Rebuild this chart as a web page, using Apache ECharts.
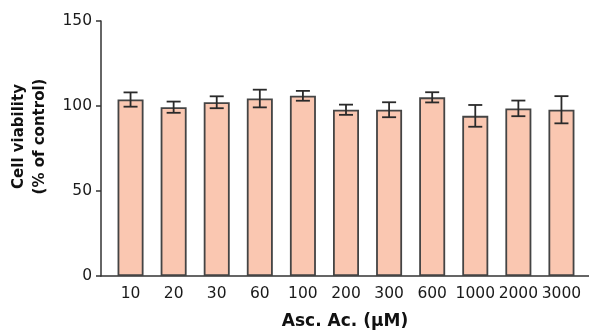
<!DOCTYPE html>
<html>
<head>
<meta charset="utf-8">
<script src="https://cdn.jsdelivr.net/npm/echarts@6/dist/echarts.min.js"></script>
<style>
html,body{margin:0;padding:0;background:#fff;}
#c{width:589px;height:331px;}
</style>
</head>
<body>
<div id="c"></div>
<script>
const categories = ['10','20','30','60','100','200','300','600','1000','2000','3000'];
const viability = [103.8, 99.3, 102.2, 104.4, 106.0, 97.8, 97.8, 105.1, 94.2, 98.6, 97.8];
const errorSD = [4.2, 3.3, 3.5, 5.2, 2.9, 3.0, 4.4, 3.0, 6.4, 4.6, 8.0];
const yTicks = [0, 50, 100, 150];

const errData = viability.map((v, i) => [i, v - errorSD[i], v + errorSD[i]]);
const font = 'DejaVu Sans';

const chart = echarts.init(document.getElementById('c'));
chart.setOption({
  animation: false,
  backgroundColor: '#fff',
  grid: [
    {left: 101, right: 0, top: 21, bottom: 55, containLabel: false, outerBoundsMode: 'none'},
    {left: 109, right: 6, top: 21, bottom: 55, containLabel: false, outerBoundsMode: 'none'}
  ],
  xAxis: [
    {
      gridIndex: 0, type: 'value', min: 0, max: 1,
      axisLine: {show: true, onZero: false, lineStyle: {color: '#333', width: 1.5}},
      axisTick: {show: false}, axisLabel: {show: false}, splitLine: {show: false},
      name: 'Asc. Ac. (\u00b5M)', nameLocation: 'middle', nameGap: 37,
      nameTextStyle: {fontFamily: font, fontWeight: 'bold', fontSize: 17, color: '#111'}
    },
    {
      gridIndex: 1, type: 'category', data: categories,
      axisLine: {show: false}, axisTick: {show: false},
      axisLabel: {margin: 10, fontFamily: font, fontSize: 15.5, color: '#1a1a1a', interval: 0}
    }
  ],
  yAxis: [
    {
      gridIndex: 0, type: 'value', min: yTicks[0], max: yTicks[yTicks.length - 1], interval: 50,
      axisLine: {show: true, lineStyle: {color: '#333', width: 1.5}},
      axisTick: {show: true, length: 5, lineStyle: {color: '#333', width: 1.5}},
      axisLabel: {margin: 9, fontFamily: font, fontSize: 15.5, color: '#1a1a1a'},
      splitLine: {show: false},
      name: 'Cell viability\n(% of control)', nameLocation: 'middle', nameGap: 50, nameRotate: 90,
      nameTextStyle: {fontFamily: font, fontWeight: 'bold', fontSize: 15, lineHeight: 21, color: '#111', padding: [0, 0, 0, 24]}
    },
    {
      gridIndex: 1, type: 'value', min: 0, max: 150, show: false
    }
  ],
  series: [
    {
      type: 'bar', xAxisIndex: 1, yAxisIndex: 1, data: viability, barWidth: 26,
      itemStyle: {color: '#FAC7B1', borderColor: '#444', borderWidth: 1.8},
      z: 2
    },
    {
      type: 'custom', xAxisIndex: 1, yAxisIndex: 1, data: errData, z: 5,
      renderItem: function (params, api) {
        const x = api.value(0);
        const lo = api.coord([x, api.value(1)]);
        const hi = api.coord([x, api.value(2)]);
        const hw = 7;
        const st = {stroke: '#2a2a2a', lineWidth: 1.8};
        return {
          type: 'group',
          children: [
            {type: 'line', shape: {x1: lo[0], y1: lo[1], x2: hi[0], y2: hi[1]}, style: st},
            {type: 'line', shape: {x1: hi[0] - hw, y1: hi[1], x2: hi[0] + hw, y2: hi[1]}, style: st},
            {type: 'line', shape: {x1: lo[0] - hw, y1: lo[1], x2: lo[0] + hw, y2: lo[1]}, style: st}
          ]
        };
      }
    }
  ]
});
</script>
</body>
</html>
